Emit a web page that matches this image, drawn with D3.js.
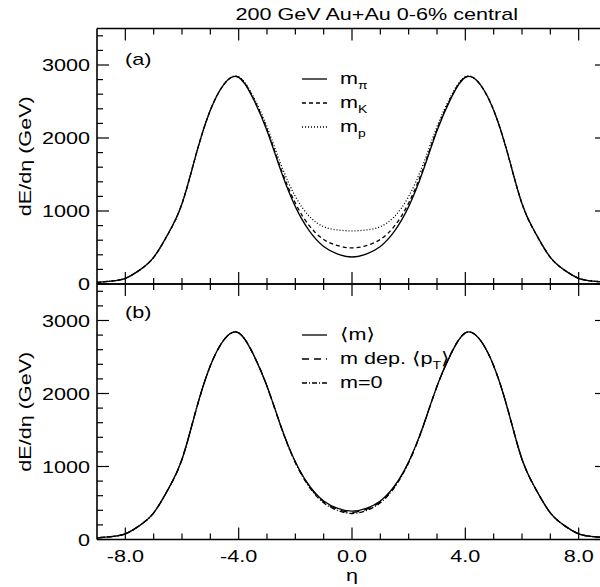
<!DOCTYPE html>
<html><head><meta charset="utf-8">
<script src="https://cdn.jsdelivr.net/npm/d3@7"></script>
<style>html,body{margin:0;background:#fff;overflow:hidden}svg{display:block}</style>
</head><body>
<script>
// ---- data ----
const eta = [-9,-8.5,-8,-7.5,-7,-6.5,-6,-5.5,-5,-4.5,-4,-3.5,-3,-2.5,-2,-1.5,-1,-0.5,0,0.5,1,1.5,2,2.5,3,3.5,4,4.5,5,5.5,6,6.5,7,7.5,8,8.5,9];
const mPi  = [22,40,78,190,365,680,1100,1780,2380,2745,2830,2550,2100,1540,1060,725,515,410,370,410,515,725,1060,1540,2100,2550,2830,2745,2380,1780,1100,680,365,190,78,40,22];
const mK   = [22,40,78,190,365,680,1100,1780,2380,2745,2833,2559,2118,1570,1108,795,610,525,494,525,610,795,1108,1570,2118,2559,2833,2745,2380,1780,1100,680,365,190,78,40,22];
const mP   = [22,40,78,190,365,680,1100,1780,2380,2747,2840,2580,2155,1630,1200,925,785,740,727,740,785,925,1200,1630,2155,2580,2840,2747,2380,1780,1100,680,365,190,78,40,22];
const mAvg = [22,40,78,190,365,680,1100,1780,2380,2745,2830,2550,2101,1543,1065,733,527,426,388,426,527,733,1065,1543,2101,2550,2830,2745,2380,1780,1100,680,365,190,78,40,22];
const mDep = [22,40,78,190,365,680,1100,1780,2380,2745,2830,2550,2100,1540,1061,727,517,412,372,412,517,727,1061,1540,2100,2550,2830,2745,2380,1780,1100,680,365,190,78,40,22];
const m0   = [22,40,78,190,365,680,1100,1780,2380,2745,2830,2549,2097,1535,1052,714,502,396,356,396,502,714,1052,1535,2097,2549,2830,2745,2380,1780,1100,680,365,190,78,40,22];
const xMajor = [-8,-4,0,4,8];
const xMajorLabels = ["-8.0","-4.0","0.0","4.0","8.0"];
const yMajor = [0,1000,2000,3000];
const title = "200 GeV Au+Au 0-6% central";

// ---- layout ----
const W = 600, H = 587;
const FONT = "'Liberation Sans', Arial, 'DejaVu Sans', sans-serif";
const SX = 1.27, FS = 17;
const svg = d3.select("body").append("svg").attr("width", W).attr("height", H);
svg.append("rect").attr("width", W).attr("height", H).attr("fill", "#fff");

const x = d3.scaleLinear().domain([-9, 9]).range([97, 607]);
const ya = d3.scaleLinear().domain([0, 3500]).range([284, 28.5]);
const yb = d3.scaleLinear().domain([0, 3500]).range([539.5, 284]);

function txt(g, px, py, anchor, rot) {
  return g.append("text")
    .attr("transform", `translate(${px},${py})` + (rot ? ` rotate(${rot})` : "") + ` scale(${SX},1)`)
    .attr("text-anchor", anchor).attr("font-family", FONT).attr("font-size", FS).attr("fill", "#000");
}

function panel(y, series, label, labelY) {
  const g = svg.append("g");
  const [y0, y1] = y.range();
  const minorX = d3.range(-8, 9, 1).filter(v => !xMajor.includes(v));
  const minorY = d3.range(200, 3500, 200).filter(v => !yMajor.includes(v));
  const tk = g.append("g").attr("stroke", "#000").attr("stroke-width", 1.2);
  xMajor.forEach(v => {
    tk.append("line").attr("x1", x(v)).attr("x2", x(v)).attr("y1", y0).attr("y2", y0 - 12);
    tk.append("line").attr("x1", x(v)).attr("x2", x(v)).attr("y1", y1).attr("y2", y1 + 12);
  });
  minorX.forEach(v => {
    tk.append("line").attr("x1", x(v)).attr("x2", x(v)).attr("y1", y0).attr("y2", y0 - 6);
    tk.append("line").attr("x1", x(v)).attr("x2", x(v)).attr("y1", y1).attr("y2", y1 + 6);
  });
  yMajor.forEach(v => {
    tk.append("line").attr("x1", x(-9)).attr("x2", x(-9) + 12).attr("y1", y(v)).attr("y2", y(v));
    tk.append("line").attr("x1", x(9)).attr("x2", x(9) - 12).attr("y1", y(v)).attr("y2", y(v));
  });
  minorY.forEach(v => {
    tk.append("line").attr("x1", x(-9)).attr("x2", x(-9) + 6).attr("y1", y(v)).attr("y2", y(v));
  });
  yMajor.forEach(v => txt(g, 90, y(v) + 6, "end").text(String(v)));
  txt(g, 31, (y0 + y1) / 2, "middle", -90).text("dE/dη (GeV)");
  txt(g, 125, labelY, "start").text(label);
  const line = d3.line().x((d, i) => x(eta[i])).y(d => y(d)).curve(d3.curveNatural);
  series.forEach(s => {
    g.append("path").datum(s.v).attr("d", line).attr("fill", "none")
      .attr("stroke", "#000").attr("stroke-width", 1.3)
      .attr("stroke-dasharray", s.dash || null);
  });
  const fr = g.append("g").attr("stroke", "#000").attr("stroke-width", 1.6).attr("fill", "none");
  fr.append("line").attr("x1", x(-9)).attr("x2", x(-9)).attr("y1", y0).attr("y2", y1);
  fr.append("line").attr("x1", x(-9)).attr("x2", x(9)).attr("y1", y0).attr("y2", y0);
  fr.append("line").attr("x1", x(-9)).attr("x2", x(9)).attr("y1", y1).attr("y2", y1);
  return g;
}

const ga = panel(ya, [
  {v: mP, dash: "1,2"},
  {v: mK, dash: "4,3"},
  {v: mPi}
], "(a)", 65);
const gb = panel(yb, [
  {v: m0, dash: "5,2,1,2"},
  {v: mDep, dash: "7,5"},
  {v: mAvg}
], "(b)", 318);

xMajor.forEach((v, i) => txt(svg, x(v), 562, "middle").text(xMajorLabels[i]));
txt(svg, x(0), 581, "middle").text("η");
txt(svg, 376.7, 20, "middle").text(title);

function legend(g, items, startY) {
  items.forEach((it, i) => {
    const ly = startY + i * 24;
    g.append("line").attr("x1", 302).attr("x2", 327).attr("y1", ly).attr("y2", ly)
      .attr("stroke", "#000").attr("stroke-width", 1.3).attr("stroke-dasharray", it.dash || null);
    const t = txt(g, 340, ly + 5, "start");
    it.parts.forEach(p => {
      if (p.sub) t.append("tspan").attr("font-size", 11).attr("dy", 5).text(p.sub);
      else t.append("tspan").attr("dy", p.up ? -5 : null).text(p.t);
    });
  });
}
legend(ga, [
  {parts: [{t: "m"}, {sub: "π"}]},
  {dash: "4,3", parts: [{t: "m"}, {sub: "K"}]},
  {dash: "1,2", parts: [{t: "m"}, {sub: "p"}]}
], 79);
legend(gb, [
  {parts: [{t: "⟨m⟩"}]},
  {dash: "7,5", parts: [{t: "m dep. ⟨p"}, {sub: "T"}, {t: "⟩", up: true}]},
  {dash: "5,2,1,2", parts: [{t: "m=0"}]}
], 335);
</script>
</body></html>
